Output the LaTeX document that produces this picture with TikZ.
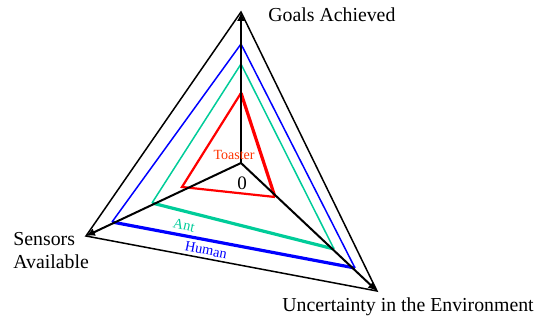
\documentclass[tikz,border=0pt]{standalone}
\usepackage{fontspec}
\setmainfont{Liberation Serif}
\usetikzlibrary{arrows.meta}

\definecolor{antgreen}{RGB}{0,204,153}
\definecolor{toasterred}{RGB}{255,51,0}

\tikzset{
  axis/.style={draw=black, line width=1pt, -{Latex[length=4.5pt,width=4pt]}},
  rim/.style={draw=black, line width=0.75pt, line join=miter},
  thin edge/.style={line width=0.75pt},
  thick edge/.style={line width=1.6pt},
  axislabel/.style={font=\fontsize{9.9}{11.5}\selectfont, inner sep=0pt},
  agentlabel/.style={font=\fontsize{7.2}{8}\selectfont, inner sep=0pt}
}

\begin{document}
\begin{tikzpicture}[x=0.5pt, y=-0.5pt]
    \useasboundingbox (0,0) rectangle (539,320);

    % axes
    \coordinate (origin) at (241,163);
    \coordinate (goals) at (241,12);
    \coordinate (sensors) at (86,236);
    \coordinate (uncert) at (377,291);

    % agents
    \coordinate (humanG) at (241,44);
    \coordinate (humanS) at (112,222);
    \coordinate (humanU) at (355,268);
    \coordinate (antG) at (241,64);
    \coordinate (antS) at (152,203);
    \coordinate (antU) at (334,249);
    \coordinate (toastG) at (241,93);
    \coordinate (toastS) at (182,187);
    \coordinate (toastU) at (275,197);

    \draw[rim] (goals) -- (sensors) -- (uncert) -- cycle;

    \draw[blue, thin edge] (humanS) -- (humanG) -- (humanU);
    \draw[blue, thick edge] (humanS) -- (humanU);
    \draw[antgreen, thin edge] (antS) -- (antG) -- (antU);
    \draw[antgreen, thick edge] (antS) -- (antU);
    \draw[red, line width=1.1pt] (toastU) -- (toastS) -- (toastG);
    \draw[red, thick edge] (toastG) -- (toastU);

    \draw[axis] (origin) -- (goals);
    \draw[axis] (origin) -- (sensors);
    \draw[axis] (origin) -- (uncert);

    % labels
    \node[axislabel, anchor=west] (goalslabel) at (268,15) {Goals Achieved};
    \node[axislabel, anchor=west, align=left] (sensorslabel) at (13,251) {Sensors\\Available};
    \node[axislabel, anchor=west] (uncertlabel) at (282,307) {Uncertainty in the Environment};
    \node[font=\fontsize{9.5}{10}\selectfont, inner sep=0pt] (zero) at (242,183) {0};
    \node[agentlabel, text=toasterred, font=\fontsize{7}{8}\selectfont] (toaster) at (234,155) {Toaster};
    \node[agentlabel, text=antgreen, rotate=-13] (ant) at (184,225) {Ant};
    \node[agentlabel, text=blue, rotate=-11] (human) at (206,250) {Human};
\end{tikzpicture}
\end{document}
